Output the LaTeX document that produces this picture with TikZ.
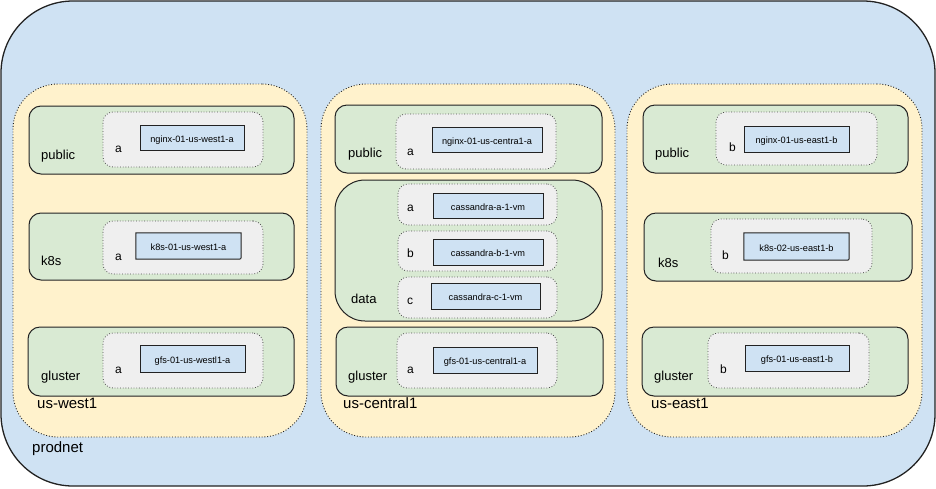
\documentclass[tikz,border=0pt]{standalone}
\usepackage{fontspec}
\setmainfont{Liberation Sans}
\usetikzlibrary{fit}
\definecolor{netblue}{HTML}{CFE2F3}
\definecolor{regyellow}{HTML}{FFF2CC}
\definecolor{subgreen}{HTML}{D9EAD3}
\definecolor{zonegray}{HTML}{EFEFEF}
\definecolor{vmblue}{HTML}{CFE2F3}
\definecolor{inkdark}{HTML}{222222}
\tikzset{
  netbox/.style={draw=inkdark, line width=1.3pt, fill=netblue, rounded corners=72pt, inner sep=0pt},
  regionbox/.style={draw=inkdark, line width=0.9pt, dash pattern=on 0.9pt off 1.9pt, fill=regyellow, rounded corners=45pt, inner sep=0pt},
  subnetbox/.style={draw=inkdark, line width=1pt, fill=subgreen, rounded corners=12pt, inner sep=0pt},
  zonebox/.style={draw=inkdark!80, line width=0.8pt, dash pattern=on 0.8pt off 1.9pt, fill=zonegray, rounded corners=10pt, inner sep=0pt},
  vmfill/.style={fill=vmblue, inner sep=0pt, anchor=center, text height=9pt, text depth=0pt, font=\fontsize{9.2}{11}\selectfont},
  vmbox/.style={vmfill, draw=inkdark, line width=1pt},
  vmedge/.style={draw=inkdark, line width=1pt},
  biglbl/.style={anchor=base west, inner sep=0pt, font=\fontsize{15}{18}\selectfont},
  sublbl/.style={anchor=base west, inner sep=0pt, font=\fontsize{13}{16}\selectfont},
  zonelbl/.style={anchor=base west, inner sep=0pt, font=\fontsize{12}{14}\selectfont},
}
\begin{document}
\begin{tikzpicture}[x=1pt, y=-1pt]
\useasboundingbox (0,0) rectangle (936,488);

% prodnet
\node[netbox, fit={(1,1) (935,486)}] (prodnet) {};
\node[biglbl] (prodnetL) at (32,452) {prodnet};

% regions
\node[regionbox, fit={(13,84) (307,437)}] (west) {};
\node[regionbox, fit={(321,84) (615,437)}] (central) {};
\node[regionbox, fit={(627,84) (922,437)}] (east) {};
\node[biglbl] (westL) at (37,408) {us-west1};
\node[biglbl] (centralL) at (343,408) {us-central1};
\node[biglbl] (eastL) at (651,408) {us-east1};

% subnets
\node[subnetbox, fit={(29,106) (294,174)}] (wpub) {};
\node[subnetbox, fit={(29,213) (294,280)}] (wk8s) {};
\node[subnetbox, fit={(28,327) (294,396)}] (wglu) {};
\node[subnetbox, fit={(335,105) (602,173)}] (cpub) {};
\node[subnetbox, rounded corners=30pt, fit={(335,180) (602,321)}] (cdata) {};
\node[subnetbox, fit={(336,327) (603,396)}] (cglu) {};
\node[subnetbox, fit={(643,105) (908,173)}] (epub) {};
\node[subnetbox, fit={(644,213) (912,281)}] (ek8s) {};
\node[subnetbox, fit={(642,327) (908,396)}] (eglu) {};

\node[sublbl] (wpubL) at (41,159) {public};
\node[sublbl] (wk8sL) at (41,265) {k8s};
\node[sublbl] (wgluL) at (41,380) {gluster};
\node[sublbl] (cpubL) at (348,157) {public};
\node[sublbl] (cdataL) at (351,303) {data};
\node[sublbl] (cgluL) at (348,380) {gluster};
\node[sublbl] (epubL) at (655,157) {public};
\node[sublbl] (ek8sL) at (658,267) {k8s};
\node[sublbl] (egluL) at (654,380) {gluster};

% zones
\node[zonebox, fit={(103,112) (263,167)}] (wpubz) {};
\node[zonebox, fit={(103,221) (263,274)}] (wk8sz) {};
\node[zonebox, fit={(103,333) (263,388)}] (wgluz) {};
\node[zonebox, fit={(396,114) (556,169)}] (cpubz) {};
\node[zonebox, fit={(398,184) (557,225)}] (cdataz1) {};
\node[zonebox, fit={(398,231) (557,271)}] (cdataz2) {};
\node[zonebox, fit={(398,277) (557,318)}] (cdataz3) {};
\node[zonebox, fit={(397,333) (557,388)}] (cgluz) {};
\node[zonebox, fit={(716,112) (877,165)}] (epubz) {};
\node[zonebox, fit={(711,219) (872,273)}] (ek8sz) {};
\node[zonebox, fit={(708,333) (869,388)}] (egluz) {};

\node[zonelbl] (wpubzL) at (115,152) {a};
\node[zonelbl] (wk8szL) at (115,260) {a};
\node[zonelbl] (wgluzL) at (115,373) {a};
\node[zonelbl] (cpubzL) at (407,155) {a};
\node[zonelbl] (cdataz1L) at (407,211) {a};
\node[zonelbl] (cdataz2L) at (407,257.5) {b};
\node[zonelbl] (cdataz3L) at (407,304) {c};
\node[zonelbl] (cgluzL) at (407,373) {a};
\node[zonelbl] (epubzL) at (729,151.5) {b};
\node[zonelbl] (ek8szL) at (722,259.5) {b};
\node[zonelbl] (egluzL) at (720,373.5) {b};

% VMs
\node[vmbox, minimum width=104pt, minimum height=25pt] (vm1) at (192,137.5) {nginx-01-us-west1-a};
\node[vmfill, minimum width=105pt, minimum height=26pt] (vm2) at (188.5,246) {k8s-01-us-west1-a};
\draw[vmedge] (vm2.north west) -- (vm2.north east) -- ([yshift=4pt]vm2.south east)
  .. controls (vm2.south east) .. ([xshift=-4pt]vm2.south east) -- (vm2.south west) -- cycle;
\node[vmbox, minimum width=105pt, minimum height=27pt] (vm3) at (192.5,358.5) {gfs-01-us-westl1-a};
\node[vmbox, minimum width=110pt, minimum height=25pt] (vm4) at (487,139.5) {nginx-01-us-centra1-a};
\node[vmbox, minimum width=110pt, minimum height=25pt] (vm5) at (488,205.5) {cassandra-a-1-vm};
\node[vmbox, minimum width=110pt, minimum height=26pt] (vm6) at (488,252) {cassandra-b-1-vm};
\node[vmbox, minimum width=109pt, minimum height=26pt] (vm7) at (485.5,296) {cassandra-c-1-vm};
\node[vmbox, minimum width=104pt, minimum height=26pt] (vm8) at (485,360) {gfs-01-us-central1-a};
\node[vmbox, minimum width=105pt, minimum height=26pt] (vm9) at (796.5,139) {nginx-01-us-east1-b};
\node[vmfill, minimum width=105pt, minimum height=27pt] (vm10) at (796.5,246.5) {k8s-02-us-east1-b};
\draw[vmedge] (vm10.north west) -- (vm10.north east) -- ([yshift=4pt]vm10.south east)
  .. controls (vm10.south east) .. ([xshift=-4pt]vm10.south east) -- (vm10.south west) -- cycle;
\node[vmbox, minimum width=104pt, minimum height=26pt] (vm11) at (797,358) {gfs-01-us-east1-b};
\end{tikzpicture}
\end{document}
